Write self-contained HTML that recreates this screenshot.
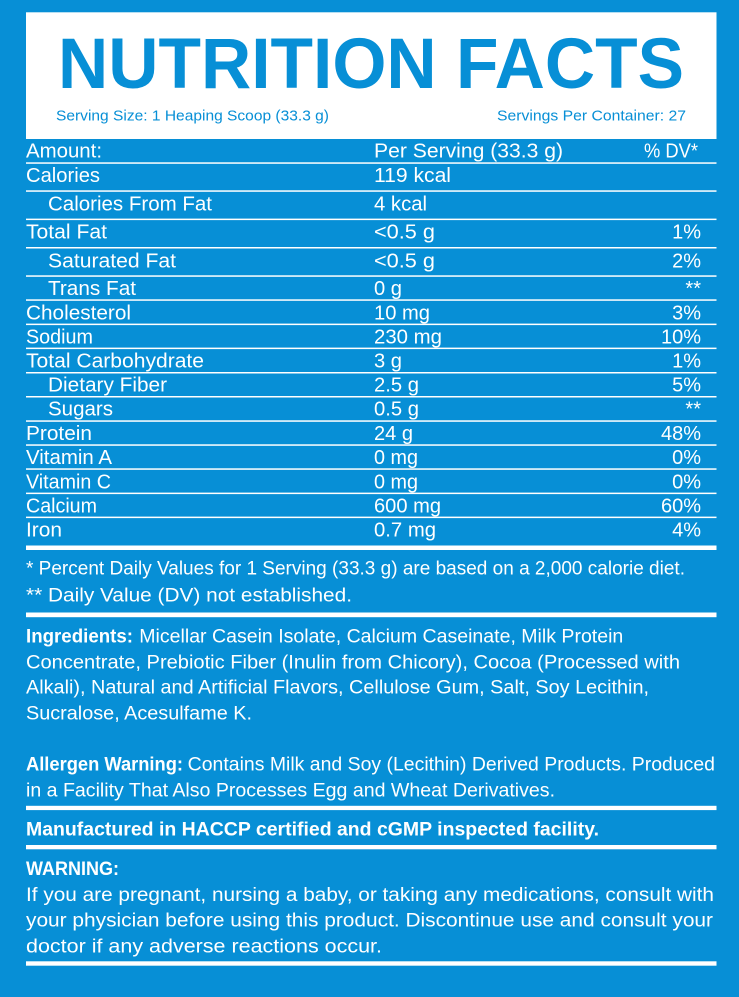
<!DOCTYPE html>
<html>
<head>
<meta charset="utf-8">
<style>
html,body{margin:0;padding:0;background:#078fd6;}
svg{display:block;}
text{font-family:"Liberation Sans",Arial,sans-serif;fill:#fff;}
.b{font-weight:bold;}
.t{font-size:20px;}
.p{font-size:19px;}
</style>
</head>
<body>
<svg width="739" height="997" viewBox="0 0 739 997" xmlns="http://www.w3.org/2000/svg">
<rect x="0" y="0" width="739" height="997" fill="#078fd6"/>
<!-- header box -->
<rect x="26" y="12.3" width="690.5" height="126.7" fill="#ffffff"/>
<text x="58" y="88" class="b" font-size="71" style="fill:#078fd6" textLength="626" lengthAdjust="spacingAndGlyphs">NUTRITION FACTS</text>
<text x="56" y="120.5" font-size="14.5" style="fill:#078fd6" textLength="273" lengthAdjust="spacingAndGlyphs">Serving Size: 1 Heaping Scoop (33.3 g)</text>
<text x="497" y="120.5" font-size="14.5" style="fill:#078fd6" textLength="189" lengthAdjust="spacingAndGlyphs">Servings Per Container: 27</text>

<!-- thin lines -->
<g fill="#ffffff">
<rect x="26" y="162.3" width="690.5" height="1.5"/>
<rect x="26" y="190.3" width="690.5" height="1.5"/>
<rect x="26" y="218.6" width="690.5" height="1.5"/>
<rect x="26" y="247" width="690.5" height="1.5"/>
<rect x="26" y="275.3" width="690.5" height="1.5"/>
<rect x="26" y="299.3" width="690.5" height="1.5"/>
<rect x="26" y="323.6" width="690.5" height="1.5"/>
<rect x="26" y="347.6" width="690.5" height="1.5"/>
<rect x="26" y="372" width="690.5" height="1.5"/>
<rect x="26" y="396" width="690.5" height="1.5"/>
<rect x="26" y="420.3" width="690.5" height="1.5"/>
<rect x="26" y="444.3" width="690.5" height="1.5"/>
<rect x="26" y="468.3" width="690.5" height="1.5"/>
<rect x="26" y="492.6" width="690.5" height="1.5"/>
<rect x="26" y="516.6" width="690.5" height="1.5"/>
<!-- thick lines -->
<rect x="26" y="545.5" width="690.5" height="4.5"/>
<rect x="26" y="612.5" width="690.5" height="4.7"/>
<rect x="26" y="805.8" width="690.5" height="4.3"/>
<rect x="26" y="845" width="690.5" height="4.3"/>
<rect x="26" y="961.3" width="690.5" height="4.4"/>
</g>

<!-- table header -->
<text class="t" x="26" y="157.5" textLength="76" lengthAdjust="spacingAndGlyphs">Amount:</text>
<text class="t" x="374" y="157.5" textLength="189" lengthAdjust="spacingAndGlyphs">Per Serving (33.3 g)</text>
<text class="t" x="644" y="157.5" textLength="54" lengthAdjust="spacingAndGlyphs">% DV*</text>

<!-- left labels -->
<text class="t" x="26" y="182" textLength="74" lengthAdjust="spacingAndGlyphs">Calories</text>
<text class="t" x="48" y="210.7" textLength="164" lengthAdjust="spacingAndGlyphs">Calories From Fat</text>
<text class="t" x="26" y="238.5" textLength="81" lengthAdjust="spacingAndGlyphs">Total Fat</text>
<text class="t" x="48" y="267.3" textLength="128" lengthAdjust="spacingAndGlyphs">Saturated Fat</text>
<text class="t" x="48" y="295" textLength="88" lengthAdjust="spacingAndGlyphs">Trans Fat</text>
<text class="t" x="26" y="319.3" textLength="105" lengthAdjust="spacingAndGlyphs">Cholesterol</text>
<text class="t" x="26" y="343.3" textLength="67" lengthAdjust="spacingAndGlyphs">Sodium</text>
<text class="t" x="26" y="367.3" textLength="178" lengthAdjust="spacingAndGlyphs">Total Carbohydrate</text>
<text class="t" x="48" y="391.7" textLength="119" lengthAdjust="spacingAndGlyphs">Dietary Fiber</text>
<text class="t" x="48" y="415.7" textLength="65" lengthAdjust="spacingAndGlyphs">Sugars</text>
<text class="t" x="26" y="440" textLength="66" lengthAdjust="spacingAndGlyphs">Protein</text>
<text class="t" x="26" y="464" textLength="86" lengthAdjust="spacingAndGlyphs">Vitamin A</text>
<text class="t" x="26" y="488.3" textLength="85" lengthAdjust="spacingAndGlyphs">Vitamin C</text>
<text class="t" x="26" y="512.7" textLength="71" lengthAdjust="spacingAndGlyphs">Calcium</text>
<text class="t" x="26" y="536.7" textLength="36" lengthAdjust="spacingAndGlyphs">Iron</text>

<!-- values -->
<text class="t" x="374" y="182" textLength="77" lengthAdjust="spacingAndGlyphs">119 kcal</text>
<text class="t" x="374" y="210.7" textLength="53" lengthAdjust="spacingAndGlyphs">4 kcal</text>
<text class="t" x="374" y="238.5" textLength="61" lengthAdjust="spacingAndGlyphs">&lt;0.5 g</text>
<text class="t" x="374" y="267.3" textLength="61" lengthAdjust="spacingAndGlyphs">&lt;0.5 g</text>
<text class="t" x="374" y="295" textLength="28" lengthAdjust="spacingAndGlyphs">0 g</text>
<text class="t" x="374" y="319.3" textLength="56" lengthAdjust="spacingAndGlyphs">10 mg</text>
<text class="t" x="374" y="343.3" textLength="68" lengthAdjust="spacingAndGlyphs">230 mg</text>
<text class="t" x="374" y="367.3" textLength="28" lengthAdjust="spacingAndGlyphs">3 g</text>
<text class="t" x="374" y="391.7" textLength="45" lengthAdjust="spacingAndGlyphs">2.5 g</text>
<text class="t" x="374" y="415.7" textLength="45" lengthAdjust="spacingAndGlyphs">0.5 g</text>
<text class="t" x="374" y="440" textLength="39" lengthAdjust="spacingAndGlyphs">24 g</text>
<text class="t" x="374" y="464" textLength="44" lengthAdjust="spacingAndGlyphs">0 mg</text>
<text class="t" x="374" y="488.3" textLength="44" lengthAdjust="spacingAndGlyphs">0 mg</text>
<text class="t" x="374" y="512.7" textLength="67" lengthAdjust="spacingAndGlyphs">600 mg</text>
<text class="t" x="374" y="536.7" textLength="62" lengthAdjust="spacingAndGlyphs">0.7 mg</text>

<!-- %DV -->
<g text-anchor="end">
<text class="t" x="701" y="238.5">1%</text>
<text class="t" x="701" y="267.3">2%</text>
<text class="t" x="701" y="295">**</text>
<text class="t" x="701" y="319.3">3%</text>
<text class="t" x="701" y="343.3">10%</text>
<text class="t" x="701" y="367.3">1%</text>
<text class="t" x="701" y="391.7">5%</text>
<text class="t" x="701" y="415.7">**</text>
<text class="t" x="701" y="440">48%</text>
<text class="t" x="701" y="464">0%</text>
<text class="t" x="701" y="488.3">0%</text>
<text class="t" x="701" y="512.7">60%</text>
<text class="t" x="701" y="536.7">4%</text>
</g>

<!-- footnotes -->
<text class="p" x="26" y="574.3" textLength="659" lengthAdjust="spacingAndGlyphs">* Percent Daily Values for 1 Serving (33.3 g) are based on a 2,000 calorie diet.</text>
<text class="p" x="26" y="601.7" textLength="326" lengthAdjust="spacingAndGlyphs">** Daily Value (DV) not established.</text>

<!-- ingredients -->
<text class="p b" x="26" y="642.3" textLength="107" lengthAdjust="spacingAndGlyphs">Ingredients:</text>
<text class="p" x="139.3" y="642.3" textLength="484" lengthAdjust="spacingAndGlyphs">Micellar Casein Isolate, Calcium Caseinate, Milk Protein</text>
<text class="p" x="26" y="668.3" textLength="654" lengthAdjust="spacingAndGlyphs">Concentrate, Prebiotic Fiber (Inulin from Chicory), Cocoa (Processed with</text>
<text class="p" x="26" y="693.5" textLength="623" lengthAdjust="spacingAndGlyphs">Alkali), Natural and Artificial Flavors, Cellulose Gum, Salt, Soy Lecithin,</text>
<text class="p" x="26" y="719.3" textLength="226" lengthAdjust="spacingAndGlyphs">Sucralose, Acesulfame K.</text>

<!-- allergen -->
<text class="p b" x="26" y="770.7" textLength="157" lengthAdjust="spacingAndGlyphs">Allergen Warning:</text>
<text class="p" x="187.7" y="770.7" textLength="527.3" lengthAdjust="spacingAndGlyphs">Contains Milk and Soy (Lecithin) Derived Products. Produced</text>
<text class="p" x="26" y="796.7" textLength="529" lengthAdjust="spacingAndGlyphs">in a Facility That Also Processes Egg and Wheat Derivatives.</text>

<!-- manufactured -->
<text class="p b" x="26" y="835.7" textLength="573" lengthAdjust="spacingAndGlyphs">Manufactured in HACCP certified and cGMP inspected facility.</text>

<!-- warning -->
<text class="p b" x="26" y="875" textLength="93" lengthAdjust="spacingAndGlyphs">WARNING:</text>
<text class="p" x="26" y="901" textLength="688" lengthAdjust="spacingAndGlyphs">If you are pregnant, nursing a baby, or taking any medications, consult with</text>
<text class="p" x="26" y="926.7" textLength="687" lengthAdjust="spacingAndGlyphs">your physician before using this product. Discontinue use and consult your</text>
<text class="p" x="26" y="952.3" textLength="356" lengthAdjust="spacingAndGlyphs">doctor if any adverse reactions occur.</text>
</svg>
</body>
</html>
